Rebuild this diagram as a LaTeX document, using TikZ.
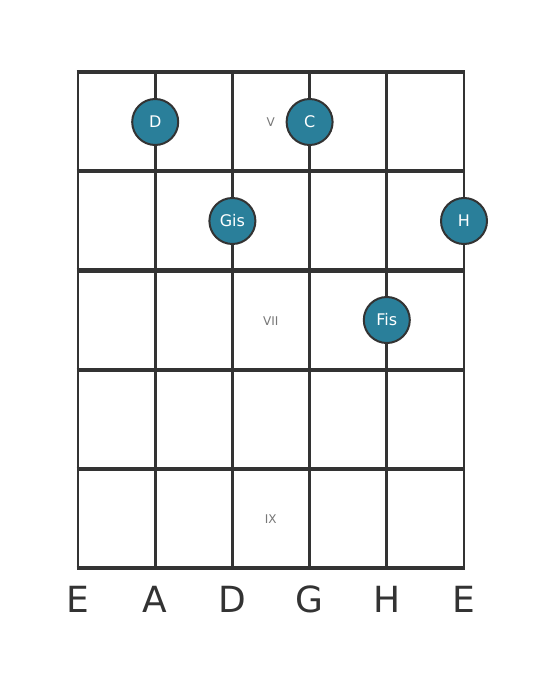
\documentclass[tikz,border=0pt]{standalone}
\usepackage{fontspec}
\setmainfont{DejaVu Sans}
\definecolor{gridc}{HTML}{333333}
\definecolor{notec}{HTML}{2A7F9A}
\definecolor{romanc}{HTML}{777777}
\begin{document}
\begin{tikzpicture}[x=1pt,y=-1pt,
  fretline/.style={gridc,line width=4.2pt},
  stringline/.style={gridc,line width=2.8pt},
  note/.style={circle,fill=notec,draw=gridc,line width=2pt,minimum size=46pt,inner sep=0pt,text=white,font=\fontsize{16}{16}\selectfont},
  roman/.style={text=romanc,font=\fontsize{12}{12}\selectfont},
  sname/.style={text=gridc,font=\fontsize{36}{36}\selectfont}]
\useasboundingbox (0,0) rectangle (559,682);
\fill[white] (0,0) rectangle (559,682);
% strings
\foreach \i/\x in {1/78,2/155.2,3/232.4,4/309.6,5/386.8,6/464}{
  \coordinate (st\i) at (\x,72);
  \coordinate (sb\i) at (\x,568);
  \draw[stringline] (st\i) -- (sb\i);
}
% frets
\foreach \j/\y in {0/72,1/171.2,2/270.4,3/369.6,4/468.8,5/568}{
  \coordinate (fl\j) at (76.6,\y);
  \coordinate (fr\j) at (465.4,\y);
  \draw[fretline] (fl\j) -- (fr\j);
}
% position markers
\node[roman] (r5) at (270.8,122) {V};
\node[roman] (r7) at (270.8,321) {VII};
\node[roman] (r9) at (270.8,519.5) {IX};
% notes
\node[note] (nD) at (155.2,122) {D};
\node[note] (nC) at (309.6,122) {C};
\node[note] (nGis) at (232.4,221) {Gis};
\node[note] (nH) at (464,221) {H};
\node[note] (nFis) at (386.8,320) {Fis};
% string names
\node[sname] (s1) at (78,599) {E};
\node[sname] (s2) at (155.2,599) {A};
\node[sname] (s3) at (232.4,599) {D};
\node[sname] (s4) at (309.6,599) {G};
\node[sname] (s5) at (386.8,599) {H};
\node[sname] (s6) at (464,599) {E};
\end{tikzpicture}
\end{document}
